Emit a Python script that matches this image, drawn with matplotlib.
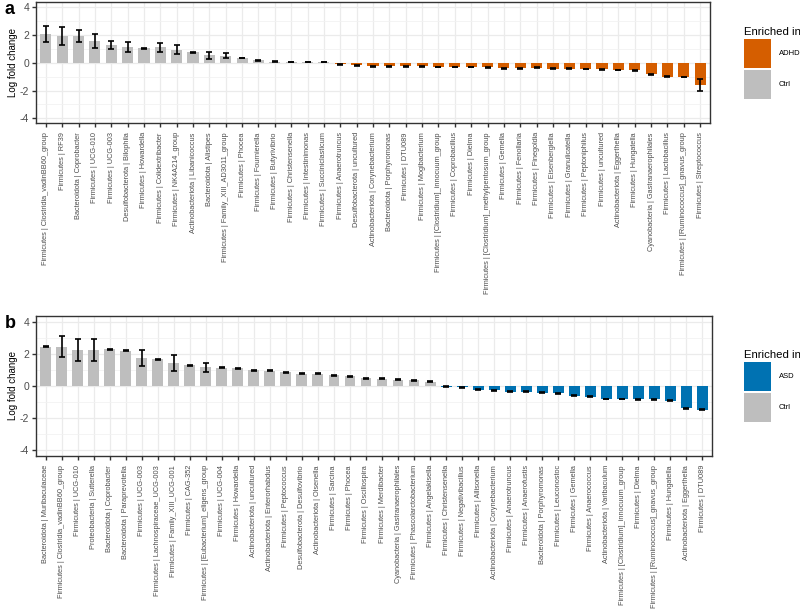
import matplotlib
matplotlib.use("Agg")
import matplotlib.pyplot as plt
from matplotlib.patches import Patch
from matplotlib.ticker import MultipleLocator

plt.rcParams['font.family'] = ['Liberation Sans', 'DejaVu Sans']
plt.rcParams['axes.unicode_minus'] = False

# panel a: ADHD vs Ctrl
labels_a = [
    "Firmicutes | Clostridia_vadinBB60_group", "Firmicutes | RF39", "Bacteroidota | Coprobacter",
    "Firmicutes | UCG-010", "Firmicutes | UCG-003", "Desulfobacterota | Bilophila",
    "Firmicutes | Howardella", "Firmicutes | Colidextribacter", "Firmicutes | NK4A214_group",
    "Actinobacteriota | Libanicoccus", "Bacteroidota | Alistipes", "Firmicutes | Family_XIII_AD3011_group",
    "Firmicutes | Phocea", "Firmicutes | Fournierella", "Firmicutes | Butyrivibrio",
    "Firmicutes | Christensenella", "Firmicutes | Intestinimonas", "Firmicutes | Succiniclasticum",
    "Firmicutes | Anaerotruncus", "Desulfobacterota | uncultured", "Actinobacteriota | Corynebacterium",
    "Bacteroidota | Porphyromonas", "Firmicutes | DTU089", "Firmicutes | Mogibacterium",
    "Firmicutes | [Clostridium]_innocuum_group", "Firmicutes | Coprobacillus", "Firmicutes | Dielma",
    "Firmicutes | [Clostridium]_methylpentosum_group", "Firmicutes | Gemella", "Firmicutes | Fenollaria",
    "Firmicutes | Finegoldia", "Firmicutes | Eisenbergiella", "Firmicutes | Granulicatella",
    "Firmicutes | Peptoniphilus", "Firmicutes | uncultured", "Actinobacteriota | Eggerthella",
    "Firmicutes | Hungatella", "Cyanobacteria | Gastranaerophilales", "Firmicutes | Lactobacillus",
    "Firmicutes | [Ruminococcus]_gnavus_group", "Firmicutes | Streptococcus",
]
lfc_a = [2.08, 1.94, 1.94, 1.58, 1.30, 1.13, 1.06, 1.11, 0.95, 0.76, 0.54, 0.52, 0.35, 0.17,
         0.09, 0.07, 0.07, 0.05, -0.10, -0.17, -0.24, -0.24, -0.24, -0.26, -0.30, -0.30, -0.30,
         -0.33, -0.38, -0.38, -0.35, -0.42, -0.42, -0.45, -0.47, -0.52, -0.54, -0.83, -0.99,
         -1.02, -1.60]
err_a = [0.55, 0.65, 0.45, 0.50, 0.30, 0.37, 0.03, 0.35, 0.30, 0.03, 0.24, 0.20, 0.03, 0.03,
         0.02, 0.02, 0.02, 0.02, 0.03, 0.03, 0.03, 0.03, 0.03, 0.03, 0.03, 0.03, 0.03,
         0.03, 0.03, 0.03, 0.03, 0.03, 0.03, 0.03, 0.03, 0.03, 0.03, 0.03, 0.03,
         0.03, 0.45]
group_a = ["Ctrl"] * 18 + ["ADHD"] * 23

# panel b: ASD vs Ctrl
labels_b = [
    "Bacteroidota | Muribaculaceae", "Firmicutes | Clostridia_vadinBB60_group", "Firmicutes | UCG-010",
    "Proteobacteria | Sutterella", "Bacteroidota | Coprobacter", "Bacteroidota | Paraprevotella",
    "Firmicutes | UCG-003", "Firmicutes | Lachnospiraceae_UCG-003", "Firmicutes | Family_XIII_UCG-001",
    "Firmicutes | CAG-352", "Firmicutes | [Eubacterium]_eligens_group", "Firmicutes | UCG-004",
    "Firmicutes | Howardella", "Actinobacteriota | uncultured", "Actinobacteriota | Enterorhabdus",
    "Firmicutes | Peptococcus", "Desulfobacterota | Desulfovibrio", "Actinobacteriota | Olsenella",
    "Firmicutes | Sarcina", "Firmicutes | Phocea", "Firmicutes | Oscillospira",
    "Firmicutes | Merdibacter", "Cyanobacteria | Gastranaerophilales", "Firmicutes | Phascolarctobacterium",
    "Firmicutes | Angelakisella", "Firmicutes | Christensenella", "Firmicutes | Negativibacillus",
    "Firmicutes | Allisonella", "Actinobacteriota | Corynebacterium", "Firmicutes | Anaerotruncus",
    "Firmicutes | Anaerofustis", "Bacteroidota | Porphyromonas", "Firmicutes | Leuconostoc",
    "Firmicutes | Gemella", "Firmicutes | Anaerococcus", "Actinobacteriota | Varibaculum",
    "Firmicutes | [Clostridium]_innocuum_group", "Firmicutes | Dielma",
    "Firmicutes | [Ruminococcus]_gnavus_group", "Firmicutes | Hungatella",
    "Actinobacteriota | Eggerthella", "Firmicutes | DTU089",
]
lfc_b = [2.44, 2.44, 2.23, 2.23, 2.27, 2.19, 1.73, 1.67, 1.44, 1.29, 1.15, 1.13, 1.10, 0.98,
         0.96, 0.85, 0.77, 0.75, 0.67, 0.60, 0.48, 0.44, 0.40, 0.37, 0.25, -0.04, -0.08,
         -0.23, -0.27, -0.37, -0.37, -0.42, -0.44, -0.60, -0.67, -0.81, -0.81, -0.83, -0.83,
         -0.92, -1.38, -1.48]
err_b = [0.03, 0.67, 0.70, 0.70, 0.03, 0.03, 0.48, 0.03, 0.48, 0.03, 0.27, 0.03, 0.03, 0.03,
         0.03, 0.03, 0.03, 0.03, 0.03, 0.03, 0.03, 0.03, 0.03, 0.03, 0.03, 0.02, 0.02,
         0.03, 0.03, 0.03, 0.03, 0.03, 0.03, 0.03, 0.03, 0.03, 0.03, 0.03, 0.03,
         0.03, 0.03, 0.03]
group_b = ["Ctrl"] * 25 + ["ASD"] * 17

colors = {"ADHD": "#D55E00", "ASD": "#0072B2", "Ctrl": "#BEBEBE"}


def draw_panel(rect, labels, lfc, err, group, case, tag):
    ax = fig.add_axes(rect)
    x = list(range(len(labels)))
    ax.bar(x, lfc, width=0.68, color=[colors[g] for g in group], zorder=2)
    ax.errorbar(x, lfc, yerr=err, fmt="none", ecolor="black", elinewidth=1.2,
                capsize=2.2, capthick=1.2, zorder=3)
    ax.set_xlim(-0.6, len(labels) - 0.4)
    ax.set_ylim(-4.35, 4.35)
    ax.set_xticks(x)
    ax.set_xticklabels(labels, rotation=90, fontsize=5.3, color="#4D4D4D")
    ax.yaxis.set_major_locator(MultipleLocator(2))
    ax.yaxis.set_minor_locator(MultipleLocator(1))
    ax.tick_params(axis="y", which="minor", length=0)
    ax.tick_params(axis="both", which="major", length=3, width=1, color="#333333",
                   labelcolor="#4D4D4D")
    ax.tick_params(axis="y", labelsize=7.5, pad=2)
    ax.grid(True, which="major", color="#EBEBEB", linewidth=0.9, zorder=0)
    ax.grid(True, which="minor", axis="y", color="#F2F2F2", linewidth=0.6, zorder=0)
    ax.set_axisbelow(True)
    for s in ax.spines.values():
        s.set_color("#333333")
        s.set_linewidth(1.0)
    ax.set_ylabel("Log fold change", fontsize=7, labelpad=1)
    top = rect[1] + rect[3]
    fig.text(0.006, top - 0.012, tag, fontsize=13, fontweight="bold",
             va="center", ha="left")
    handles = [Patch(facecolor=colors[case], label=case),
               Patch(facecolor=colors["Ctrl"], label="Ctrl")]
    leg = fig.legend(handles=handles, title="Enriched in", loc="center left",
                     bbox_to_anchor=(0.926, rect[1] + rect[3] / 2), frameon=False,
                     fontsize=5.5, title_fontsize=8.2, handlelength=3.6, handleheight=5.4,
                     labelspacing=0.3, handletextpad=1.0, borderaxespad=0)
    leg._legend_box.align = "left"
    return ax


fig = plt.figure(figsize=(8, 6.1), dpi=100)
draw_panel([0.045, 0.798, 0.8425, 0.198], labels_a, lfc_a, err_a, group_a, "ADHD", "a")
draw_panel([0.045, 0.2525, 0.845, 0.2295], labels_b, lfc_b, err_b, group_b, "ASD", "b")
fig.savefig("out.png", dpi=100)
